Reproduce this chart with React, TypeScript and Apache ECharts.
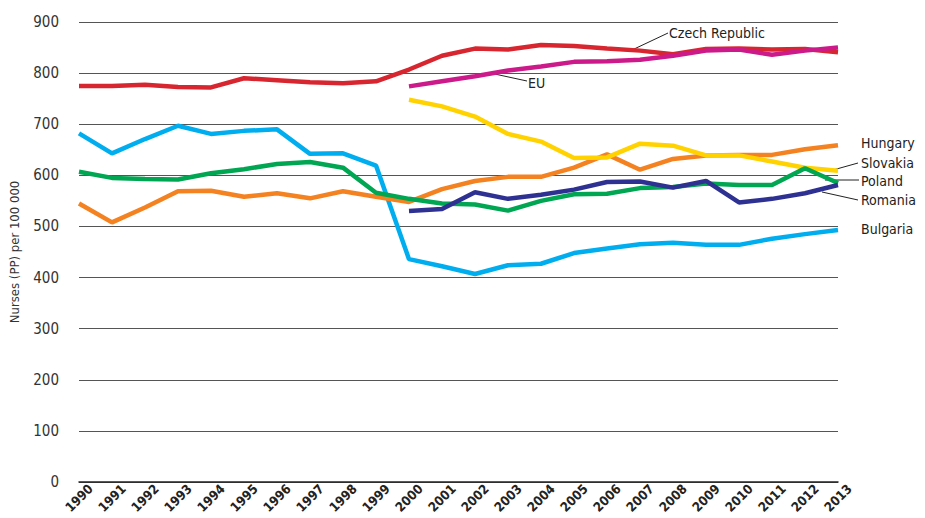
import React, { useEffect, useRef } from "react";
import * as echarts from "echarts";

const years = ["1990","1991","1992","1993","1994","1995","1996","1997","1998","1999","2000","2001","2002","2003","2004","2005","2006","2007","2008","2009","2010","2011","2012","2013"];

const czech = [775,775,777,773,772,790,786,782,780,784,807,834,848,846,855,853,848,844,837,847,848,846,847,841];
const eu = [null,null,null,null,null,null,null,null,null,null,774,784,794,805,813,822,823,826,834,844,846,836,844,850];
const slovakia = [null,null,null,null,null,null,null,null,null,null,748,735,715,681,666,634,635,662,658,639,639,627,615,609];
const hungary = [545,508,537,569,570,558,565,555,569,558,548,573,589,597,597,615,641,611,632,639,640,640,651,659];
const poland = [607,595,593,592,604,612,622,626,615,566,554,545,543,531,550,563,564,575,577,584,581,581,614,585];
const romania = [null,null,null,null,null,null,null,null,null,null,530,534,567,554,562,572,587,588,576,589,547,554,565,581];
const bulgaria = [682,643,671,697,681,687,690,642,643,619,436,422,407,424,427,448,457,465,468,464,464,476,485,493];

const yTicks = [0, 900, 100];

const FONT = "'Liberation Sans Narrow', 'DejaVu Sans Condensed', 'Liberation Sans', sans-serif";

export default function App() {
  const ref = useRef<HTMLDivElement>(null);
  useEffect(() => {
    const chart = echarts.init(ref.current!, null, { renderer: "svg" });
    const mk = (name: string, data: (number | null)[], color: string) => ({
      name,
      type: "line",
      data,
      symbol: "none",
      connectNulls: false,
      lineStyle: { color, width: 4.5 },
      itemStyle: { color },
    });
    const txt = (text: string, x: number, y: number) => ({
      type: "text",
      x,
      y,
      style: { text, fill: "#222", font: `14px ${FONT}`, textVerticalAlign: "middle" },
    });
    const ln = (x1: number, y1: number, x2: number, y2: number) => ({
      type: "line",
      shape: { x1, y1, x2, y2 },
      style: { stroke: "#222", lineWidth: 1 },
    });
    chart.setOption({
      animation: false,
      grid: { left: 73, right: 87, top: 22, bottom: 36, containLabel: false },
      xAxis: {
        type: "category",
        data: years,
        boundaryGap: false,
        axisLine: { lineStyle: { color: "#222", width: 1.5 } },
        axisTick: { show: false },
        axisLabel: {
          rotate: 45,
          align: "center",
          verticalAlign: "middle",
          margin: 16,
          interval: 0,
          fontFamily: FONT,
          fontWeight: "bold",
          fontSize: 13,
          color: "#222",
        },
      },
      yAxis: {
        type: "value",
        min: yTicks[0],
        max: yTicks[1],
        interval: yTicks[2],
        name: "Nurses (PP) per 100 000",
        nameLocation: "middle",
        nameGap: 58,
        nameTextStyle: { fontFamily: FONT, fontSize: 13, color: "#333" },
        axisLine: { show: false },
        axisTick: { show: false },
        axisLabel: { fontFamily: FONT, fontSize: 15, color: "#333", margin: 20 },
        splitLine: { lineStyle: { color: "#555", width: 1 } },
      },
      series: [
        mk("Bulgaria", bulgaria, "#00aeef"),
        mk("Hungary", hungary, "#f58220"),
        mk("Slovakia", slovakia, "#ffd200"),
        mk("Poland", poland, "#00a651"),
        mk("Romania", romania, "#2e3192"),
        mk("Czech Republic", czech, "#d7262f"),
        mk("EU", eu, "#cc1a8a"),
      ],
      graphic: [
        txt("Czech Republic", 669, 33),
        ln(632, 50, 668, 33),
        txt("EU", 528, 83),
        ln(490, 73, 527, 81),
        txt("Hungary", 861, 143),
        txt("Slovakia", 861, 163),
        ln(833, 170, 858, 163),
        txt("Poland", 861, 181),
        ln(825, 180, 859, 180),
        txt("Romania", 861, 200),
        ln(822, 192, 858, 200),
        txt("Bulgaria", 861, 229),
      ],
    });
    return () => chart.dispose();
  }, []);
  return <div ref={ref} style={{ width: 925, height: 518, position: "absolute", left: 0, top: 0 }} />;
}
